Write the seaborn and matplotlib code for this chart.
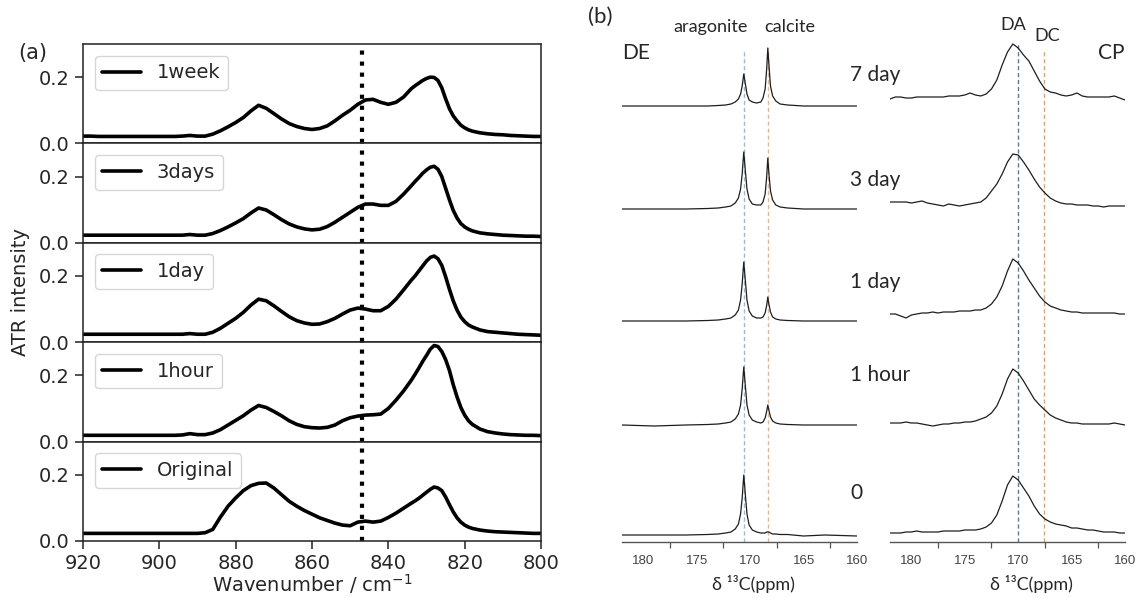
import numpy as np
import pandas as pd
import matplotlib
matplotlib.use("Agg")
import matplotlib.pyplot as plt
from matplotlib.ticker import MultipleLocator
import seaborn as sns

# ---------------- (a) ATR spectra ----------------
# sampled every 2 cm-1, every 1 cm-1 across the 830 cm-1 band
wavenumber = np.concatenate([np.arange(920, 835, -2), np.arange(834, 817, -1),
                             np.arange(816, 799, -2)])

atr_labels = ["1week", "3days", "1day", "1hour", "Original"]

atr_1week = [0.022, 0.022, 0.021, 0.021, 0.021, 0.021, 0.021, 0.021, 0.021, 0.021, 0.021, 0.021, 0.021,
             0.022, 0.024, 0.022, 0.022, 0.028, 0.038, 0.050, 0.063,
             0.078, 0.098, 0.115, 0.106, 0.090, 0.074, 0.060, 0.051,
             0.045, 0.042, 0.045, 0.053, 0.068, 0.085, 0.100, 0.118,
             0.131, 0.133, 0.124, 0.118, 0.124, 0.140,
             0.165, 0.174, 0.182, 0.190, 0.196, 0.200, 0.199, 0.190, 0.168,
             0.135, 0.105, 0.083, 0.068, 0.055, 0.047, 0.041, 0.037,
             0.032, 0.029, 0.027, 0.026, 0.024, 0.023, 0.022, 0.021, 0.021]

atr_3days = [0.023, 0.023, 0.023, 0.023, 0.023, 0.023, 0.023, 0.023, 0.023, 0.023, 0.023, 0.023, 0.023,
             0.023, 0.025, 0.023, 0.023, 0.028, 0.037, 0.048, 0.060,
             0.073, 0.090, 0.105, 0.099, 0.085, 0.070, 0.057, 0.048,
             0.042, 0.039, 0.041, 0.049, 0.062, 0.077, 0.092, 0.107,
             0.117, 0.117, 0.113, 0.113, 0.125, 0.147,
             0.172, 0.185, 0.197, 0.210, 0.220, 0.228, 0.231, 0.222, 0.200,
             0.165, 0.130, 0.098, 0.075, 0.058, 0.048, 0.041, 0.036,
             0.030, 0.027, 0.025, 0.023, 0.022, 0.021, 0.020, 0.020, 0.019]

atr_1day = [0.024, 0.024, 0.024, 0.024, 0.024, 0.024, 0.024, 0.024, 0.024, 0.024, 0.024, 0.024, 0.024,
            0.024, 0.026, 0.024, 0.024, 0.030, 0.042, 0.057, 0.072,
            0.090, 0.112, 0.130, 0.125, 0.110, 0.093, 0.077, 0.065,
            0.058, 0.054, 0.055, 0.062, 0.072, 0.085, 0.097, 0.103,
            0.100, 0.095, 0.095, 0.108, 0.130, 0.158,
            0.187, 0.200, 0.215, 0.230, 0.245, 0.256, 0.260, 0.252, 0.232,
            0.198, 0.160, 0.125, 0.097, 0.076, 0.062, 0.052, 0.046,
            0.037, 0.032, 0.030, 0.028, 0.026, 0.024, 0.023, 0.022, 0.021]

atr_1hour = [0.019, 0.019, 0.019, 0.019, 0.019, 0.019, 0.019, 0.019, 0.019, 0.019, 0.019, 0.019, 0.019,
             0.020, 0.024, 0.021, 0.021, 0.026, 0.036, 0.050, 0.064,
             0.078, 0.095, 0.109, 0.103, 0.091, 0.078, 0.063, 0.052,
             0.045, 0.042, 0.041, 0.043, 0.050, 0.063, 0.072, 0.077,
             0.080, 0.081, 0.083, 0.100, 0.125, 0.153,
             0.185, 0.203, 0.222, 0.242, 0.260, 0.279, 0.290, 0.287, 0.272,
             0.248, 0.215, 0.172, 0.135, 0.103, 0.080, 0.063, 0.052,
             0.038, 0.030, 0.026, 0.023, 0.021, 0.020, 0.019, 0.019, 0.018]

atr_original = [0.023, 0.023, 0.023, 0.023, 0.023, 0.023, 0.023, 0.023, 0.023, 0.023, 0.023, 0.023, 0.023,
                0.023, 0.023, 0.023, 0.025, 0.035, 0.072, 0.105, 0.130,
                0.152, 0.167, 0.174, 0.175, 0.160, 0.140, 0.120, 0.105,
                0.092, 0.081, 0.070, 0.062, 0.054, 0.048, 0.046, 0.057,
                0.060, 0.057, 0.060, 0.071, 0.084, 0.099,
                0.114, 0.121, 0.129, 0.138, 0.147, 0.156, 0.163, 0.160, 0.152,
                0.133, 0.110, 0.088, 0.070, 0.057, 0.048, 0.042, 0.038,
                0.033, 0.030, 0.028, 0.027, 0.026, 0.025, 0.024, 0.023, 0.023]

atr_series = [atr_1week, atr_3days, atr_1day, atr_1hour, atr_original]
marker_wavenumber = 847

# ---------------- (b) 13C NMR spectra ----------------
sample_labels = ["7 day", "3 day", "1 day", "1 hour", "0"]

ppm_de = [182, 179, 176, 174, 173, 172.3, 171.8, 171.4, 171.1, 170.9, 170.75, 170.6, 170.45,
          170.3, 170.1, 169.8, 169.4, 169.0, 168.8, 168.6, 168.45, 168.35, 168.25, 168.1,
          167.9, 167.6, 167.2, 166.5, 165, 163, 160]
de_7day = [0, 0, 0, 0, 0.5, 1, 2, 4, 7, 12, 20, 32, 22, 12, 6, 4, 3, 4, 8, 17, 38, 58, 42, 20,
           10, 5, 2, 1, 0, 0, 0]
de_3day = [0, 0, 0, 0.5, 1, 2, 3, 6, 11, 20, 35, 57, 38, 20, 10, 5, 4, 4, 7, 15, 33, 51, 36, 18,
           9, 4, 2, 1, 0, 0, 0]
de_1day = [0, 0, 0, 0.5, 1, 2, 3, 6, 11, 21, 37, 59, 40, 21, 10, 5, 3, 3, 4, 8, 16, 24, 17, 9,
           4, 2, 1, 0.5, 0, 0, 0]
de_1hour = [0, -1, 0, 0.5, 1, 2, 3, 6, 11, 20, 36, 58, 39, 20, 10, 5, 3, 2, 3, 7, 14, 20, 15, 8,
            4, 2, 1, 0.5, 0, 0, 0]
de_0 = [0, 0, 0, 0.5, 1, 2, 3, 6, 11, 21, 37, 60, 40, 21, 10, 5, 3, 2, 2, 2, 3, 3, 3, 2,
        1, 1, 0.5, 0.5, -1, 0, -1]
de_series = [de_7day, de_3day, de_1day, de_1hour, de_0]

ppm_cp = np.arange(182, 159.9, -0.5)
cp_7day = [-1, 1, 1, 0, 0, 1, 1, 1, 1, 1, 1, 2, 2, 2, 3, 5, 3, 2, 4, 9, 18, 33, 46, 54, 50,
           43, 37, 27, 17, 9, 6, 5, 3, 2, 3, 5, 2, 1, 1, 1, 1, 1, 2, 0, -2]
cp_3day = [2, 2, 2, 2, 1, 2, 3, 1, 0, -1, -2, 0, -1, -2, -1, 0, 1, 2, 6, 13, 20, 30, 42, 50, 49,
           42, 34, 25, 17, 11, 6, 3, 1, 0, 0, -1, -1, -1, -2, -2, -3, -2, -2, -2, -2]
cp_1day = [-1, -1, -3, -5, -2, -1, 0, 0, 1, 0, 1, 1, 1, 2, 2, 2, 3, 3, 5, 9, 16, 27, 42, 54, 50,
           42, 33, 25, 17, 11, 7, 5, 3, 2, 1, 1, 0, 0, 0, 0, 0, 0, 0, -1, -1]
cp_1hour = [1, 1, 1, 2, 1, 1, 0, -1, -2, -1, 0, 0, 1, 1, 2, 2, 3, 5, 7, 11, 18, 30, 45, 55, 51,
            43, 34, 25, 19, 14, 9, 6, 4, 2, 1, 1, 0, 0, 0, 0, 0, 0, 1, 0, -1]
cp_0 = [0, 0, 0, 1, 1, 2, 1, 1, 1, 1, 2, 2, 2, 2, 3, 3, 3, 4, 6, 10, 18, 32, 48, 57, 53,
        45, 37, 27, 19, 14, 11, 9, 8, 7, 5, 5, 4, 3, 3, 2, 1, 1, 1, 0, 0]
cp_series = [cp_7day, cp_3day, cp_1day, cp_1hour, cp_0]

aragonite_ppm = 170.6
calcite_ppm = 168.3
da_ppm = 170.0
dc_ppm = 167.6

# vertical stacking of the traces (axis units)
de_offsets = [436, 333, 221, 117, 7]
cp_offsets = [444, 338, 229, 118, 9]

# ---------------- figure ----------------
sns.set_theme(style="ticks")
plt.rcParams["font.family"] = ["DejaVu Sans"]

W, H = 1139, 598
fig = plt.figure(figsize=(W / 100, H / 100), dpi=100)


def fx(px):
    return px / W


def fy(py):
    return 1 - py / H


gs = fig.add_gridspec(5, 1, left=fx(83), right=fx(541), top=fy(44), bottom=fy(541), hspace=0)
axes_a = []
for i, (lab, vals) in enumerate(zip(atr_labels, atr_series)):
    ax = fig.add_subplot(gs[i], sharex=axes_a[0] if axes_a else None)
    df = pd.DataFrame({"wavenumber": wavenumber, "intensity": vals})
    sns.lineplot(data=df, x="wavenumber", y="intensity", ax=ax, color="black",
                 linewidth=2.6, label=lab, solid_joinstyle="round", solid_capstyle="round")
    ax.axvline(marker_wavenumber, color="black", linestyle=":", linewidth=3)
    ax.set_xlim(920, 800)
    ax.set_ylim(0, 0.3)
    ax.set_yticks([0.0, 0.2])
    ax.set_xlabel("")
    ax.set_ylabel("")
    for sp in ax.spines.values():
        sp.set_color("#222222")
        sp.set_linewidth(1.1)
    ax.tick_params(axis="both", labelsize=14, length=6, width=1.1, color="#222222")
    if i < 4:
        ax.tick_params(axis="x", bottom=False, labelbottom=False)
    ax.legend(loc="upper left", fontsize=14, frameon=True, fancybox=True,
              edgecolor="0.8", framealpha=0.8, handlelength=2.0, borderaxespad=0.6)
    axes_a.append(ax)

axes_a[-1].set_xticks([920, 900, 880, 860, 840, 820, 800])
fig.text(fx(18), fy(53), "(a)", fontsize=15, va="center", ha="left")
fig.text(fx(21), fy(292), "ATR intensity", fontsize=14, rotation=90, va="center", ha="center")
fig.text(fx(312), fy(584), r"Wavenumber / cm$^{-1}$", fontsize=14, va="center", ha="center")

# ---------------- (b) NMR panels ----------------
nmr_font = ["Lato", "DejaVu Sans"]


def nmr_axes(left_px, right_px):
    ax = fig.add_axes([fx(left_px), fy(542), fx(right_px) - fx(left_px), 500 / H])
    ax.set_xlim(182, 160)
    ax.set_ylim(0, 500)
    for side in ("left", "top", "right"):
        ax.spines[side].set_visible(False)
    ax.spines["bottom"].set_color("#555555")
    ax.spines["bottom"].set_linewidth(1.0)
    ax.set_yticks([])
    ax.xaxis.set_major_locator(MultipleLocator(5))
    ax.xaxis.set_minor_locator(MultipleLocator(2.5))
    ax.tick_params(axis="x", which="major", length=0, pad=9, labelsize=9.5,
                   labelcolor="#444444")
    ax.tick_params(axis="x", which="minor", length=4, width=0.9, color="#555555",
                   direction="out")
    for t in ax.get_xticklabels():
        t.set_family(["Liberation Sans", "DejaVu Sans"])
    ax.set_xlabel("")
    ax.set_ylabel("")
    ax.patch.set_alpha(0)
    return ax


ax_de = nmr_axes(622, 857)
ax_cp = nmr_axes(890, 1125)

for vals, off in zip(de_series, de_offsets):
    df = pd.DataFrame({"ppm": ppm_de, "signal": np.asarray(vals, dtype=float) + off})
    sns.lineplot(data=df, x="ppm", y="signal", ax=ax_de, color="#1e1e1e", linewidth=0.9,
                 sort=False)
for vals, off in zip(cp_series, cp_offsets):
    df = pd.DataFrame({"ppm": ppm_cp, "signal": np.asarray(vals, dtype=float) + off})
    sns.lineplot(data=df, x="ppm", y="signal", ax=ax_cp, color="#1e1e1e", linewidth=0.9,
                 sort=False)

dash = (0, (3, 2))
ax_de.vlines(aragonite_ppm, 0, 492, colors="#9bb9d6", linestyles=dash, linewidth=1.0, zorder=0)
ax_de.vlines(calcite_ppm, 0, 494, colors="#f0b482", linestyles=dash, linewidth=1.0, zorder=0)
ax_cp.vlines(da_ppm, 0, 499, colors="#5a7898", linestyles=dash, linewidth=1.0, zorder=0)
ax_cp.vlines(dc_ppm, 0, 492, colors="#e8a060", linestyles=dash, linewidth=1.0, zorder=0)
for ax in (ax_de, ax_cp):
    ax.set_xlabel("")
    ax.set_ylabel("")
    ax.set_xlim(182, 160)
    ax.set_ylim(0, 500)

fig.text(fx(588), fy(17), "(b)", fontsize=16, family=nmr_font, va="center", ha="left")
fig.text(fx(711), fy(27), "aragonite", fontsize=13, family=nmr_font, va="center", ha="center")
fig.text(fx(790), fy(27), "calcite", fontsize=13, family=nmr_font, va="center", ha="center")
fig.text(fx(622), fy(53), "DE", fontsize=15, family=nmr_font, va="center", ha="left")
fig.text(fx(1013), fy(25), "DA", fontsize=13, family=nmr_font, va="center", ha="center")
fig.text(fx(1047), fy(36), "DC", fontsize=13, family=nmr_font, va="center", ha="center")
fig.text(fx(1111), fy(53), "CP", fontsize=15, family=nmr_font, va="center", ha="center")

label_y = [75, 180, 282, 375, 493]
for lab, yy in zip(sample_labels, label_y):
    fig.text(fx(850), fy(yy), lab, fontsize=15, family=nmr_font, va="center", ha="left")

fig.text(fx(753), fy(584), "δ ¹³C(ppm)", fontsize=13, family=nmr_font, va="center", ha="center")
fig.text(fx(1031), fy(584), "δ ¹³C(ppm)", fontsize=13, family=nmr_font, va="center", ha="center")

fig.savefig("out.png", dpi=100, facecolor="white")
